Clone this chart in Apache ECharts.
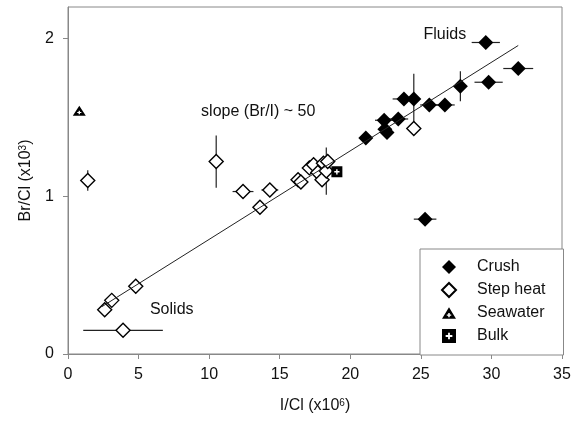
<!DOCTYPE html>
<html>
<head>
<meta charset="utf-8">
<script src="https://cdn.jsdelivr.net/npm/echarts@6/dist/echarts.min.js"></script>
<style>
  html, body { margin: 0; padding: 0; background: #ffffff; }
  #chart { width: 586px; height: 422px; }
</style>
</head>
<body>
<div id="chart"></div>
<script>
// I/Cl (x10^6) and Br/Cl (x10^3) for each sample group, with 1-sigma errors
const crushX    = [29.6, 31.9, 29.8, 27.8, 26.7, 25.6, 24.5, 23.8, 23.4, 22.4, 22.45, 22.6, 21.1, 25.3];
const crushY    = [1.975, 1.81, 1.723, 1.697, 1.579, 1.579, 1.617, 1.617, 1.49, 1.482, 1.425, 1.405, 1.369, 0.855];
const crushXErr = [1.0, 1.06, 1.0, 0, 0.7, 0.65, 0, 0.8, 0.7, 0.65, 0, 0, 0, 0.8];
const crushYErr = [0, 0, 0, 0.095, 0, 0, 0.16, 0, 0, 0, 0, 0, 0, 0];

const stepX    = [1.4, 10.5, 12.4, 14.3, 13.6, 4.8, 3.1, 2.6, 3.9, 16.3, 16.5, 17.1, 17.4, 17.7, 18.0, 18.1, 18.3, 18.4, 24.5];
const stepY    = [1.10, 1.22, 1.03, 1.04, 0.93, 0.43, 0.34, 0.28, 0.15, 1.105, 1.09, 1.18, 1.20, 1.15, 1.105, 1.21, 1.16, 1.22, 1.43];
const stepXErr = [0, 0, 0.74, 0.6, 0, 0, 0, 0, 2.82, 0, 0, 0, 0, 0, 0, 0, 0, 0, 0];
const stepYErr = [0.065, 0.166, 0, 0, 0, 0.045, 0, 0, 0, 0.03, 0, 0, 0, 0, 0, 0, 0.15, 0, 0];

const seawaterX = [0.8];
const seawaterY = [1.543];
const bulkX = [19.05];
const bulkY = [1.155];

// Best-fit line end points
const fitX = [2.4, 31.9];
const fitY = [0.30, 1.956];

// Tick values
const xTicks = [0, 5, 10, 15, 20, 25, 30, 35];
const yTicks = [0, 1, 2];

// Text notes on the plot: [x, y, text]
const noteX = [26.7, 13.48, 7.35];
const noteY = [2.025, 1.535, 0.279];
const noteText = ['Fluids', 'slope (Br/I) ~ 50', 'Solids'];

const FONT = 'Liberation Sans, Arial, sans-serif';
const INK = '#111111';
const GREY = '#888888';

const pairs = (xs, ys) => xs.map((x, i) => [x, ys[i]]);

// Black shape with a small white "+" cut out of it (opposite winding = hole)
const bulkSymbol = 'path://M0,0L10,0L10,10L0,10Z M4.35,2.6L4.35,4.35L2.6,4.35L2.6,5.65L4.35,5.65L4.35,7.4L5.65,7.4L5.65,5.65L7.4,5.65L7.4,4.35L5.65,4.35L5.65,2.6Z';
const seaSymbol = 'path://M6,0L12,10L0,10Z M5.35,5L5.35,6.3L4.1,6.3L4.1,7.4L5.35,7.4L5.35,8.7L6.65,8.7L6.65,7.4L7.9,7.4L7.9,6.3L6.65,6.3L6.65,5Z';

function errorBars(name, xs, ys, xe, ye) {
  return {
    type: 'custom',
    name: name,
    silent: true,
    z: 1,
    data: xs.map((x, i) => [x, ys[i], xe[i], ye[i]]),
    encode: { x: 0, y: 1 },
    renderItem: function (params, api) {
      const x = api.value(0), y = api.value(1);
      const dx = api.value(2), dy = api.value(3);
      const children = [];
      const style = { stroke: '#222222', lineWidth: 1.2 };
      if (dx > 0) {
        const a = api.coord([x - dx, y]), b = api.coord([x + dx, y]);
        children.push({ type: 'line', shape: { x1: a[0], y1: a[1], x2: b[0], y2: b[1] }, style: style });
      }
      if (dy > 0) {
        const a = api.coord([x, y - dy]), b = api.coord([x, y + dy]);
        children.push({ type: 'line', shape: { x1: a[0], y1: a[1], x2: b[0], y2: b[1] }, style: style });
      }
      return { type: 'group', children: children };
    }
  };
}

const chart = echarts.init(document.getElementById('chart'), null, { renderer: 'canvas' });

chart.setOption({
  animation: false,
  backgroundColor: '#ffffff',
  textStyle: { fontFamily: FONT },
  grid: {
    left: 68, right: 24, top: 7, bottom: 68,
    show: true, borderColor: GREY, borderWidth: 1, backgroundColor: 'transparent'
  },
  legend: {
    orient: 'vertical',
    left: 420, top: 249,
    data: ['Crush', 'Step heat', 'Seawater', 'Bulk'],
    itemWidth: 14, itemHeight: 14, itemGap: 7,
    padding: [10, 18, 11, 21],
    backgroundColor: '#ffffff',
    borderColor: GREY, borderWidth: 1, borderRadius: 0,
    textStyle: { color: INK, fontSize: 16, fontFamily: FONT, padding: [0, 0, 0, 16] },
    selectedMode: false
  },
  xAxis: {
    type: 'value', min: 0, max: 35, interval: 5,
    name: 'I/Cl (x10{sup|6})',
    nameLocation: 'middle', nameGap: 44,
    nameTextStyle: {
      color: INK, fontSize: 16, fontFamily: FONT,
      rich: { sup: { fontSize: 10, fontFamily: FONT, color: INK, verticalAlign: 'top', padding: [0, 0, 4, 0] } }
    },
    axisLine: { show: true, onZero: false, lineStyle: { color: GREY, width: 1 } },
    axisTick: { show: true, inside: false, length: 5, lineStyle: { color: GREY }, customValues: xTicks },
    axisLabel: { color: INK, fontSize: 16, fontFamily: FONT, margin: 13, customValues: xTicks },
    splitLine: { show: false }
  },
  yAxis: {
    type: 'value', min: 0, max: 2.2, interval: 1,
    name: 'Br/Cl (x10{sup|3})',
    nameLocation: 'middle', nameGap: 34, nameRotate: 90,
    nameTextStyle: {
      color: INK, fontSize: 16, fontFamily: FONT,
      rich: { sup: { fontSize: 10, fontFamily: FONT, color: INK, verticalAlign: 'top', padding: [0, 0, 4, 0] } }
    },
    axisLine: { show: true, onZero: false, lineStyle: { color: GREY, width: 1 } },
    axisTick: { show: true, inside: false, length: 5, lineStyle: { color: GREY }, customValues: yTicks },
    axisLabel: { color: INK, fontSize: 16, fontFamily: FONT, margin: 14, customValues: yTicks },
    splitLine: { show: false }
  },
  series: [
    errorBars('Crush errors', crushX, crushY, crushXErr, crushYErr),
    errorBars('Step heat errors', stepX, stepY, stepXErr, stepYErr),
    {
      name: 'Step heat', type: 'scatter', z: 2,
      symbol: 'diamond', symbolSize: 14,
      itemStyle: { color: '#ffffff', borderColor: '#000000', borderWidth: 1.4, opacity: 1 },
      data: pairs(stepX, stepY)
    },
    {
      name: 'Crush', type: 'scatter', z: 3,
      symbol: 'diamond', symbolSize: 15,
      itemStyle: { color: '#000000', opacity: 1 },
      data: pairs(crushX, crushY)
    },
    {
      name: 'Seawater', type: 'scatter', z: 3,
      symbol: seaSymbol, symbolSize: [13, 10],
      itemStyle: { color: '#000000', opacity: 1 },
      data: pairs(seawaterX, seawaterY)
    },
    {
      name: 'Bulk', type: 'scatter', z: 3,
      symbol: bulkSymbol, symbolSize: [11, 11],
      itemStyle: { color: '#000000', opacity: 1 },
      data: pairs(bulkX, bulkY)
    },
    {
      name: 'fit', type: 'line', z: 4, silent: true,
      symbol: 'none',
      lineStyle: { color: '#222222', width: 1 },
      data: pairs(fitX, fitY)
    },
    {
      name: 'notes', type: 'custom', z: 5, silent: true,
      data: noteX.map((x, i) => [x, noteY[i], i]),
      encode: { x: 0, y: 1 },
      renderItem: function (params, api) {
        const p = api.coord([api.value(0), api.value(1)]);
        return {
          type: 'text', x: p[0], y: p[1],
          style: {
            text: noteText[api.value(2)], fill: INK,
            font: '16px ' + FONT, align: 'center', verticalAlign: 'middle'
          }
        };
      }
    }
  ]
});
</script>
</body>
</html>
